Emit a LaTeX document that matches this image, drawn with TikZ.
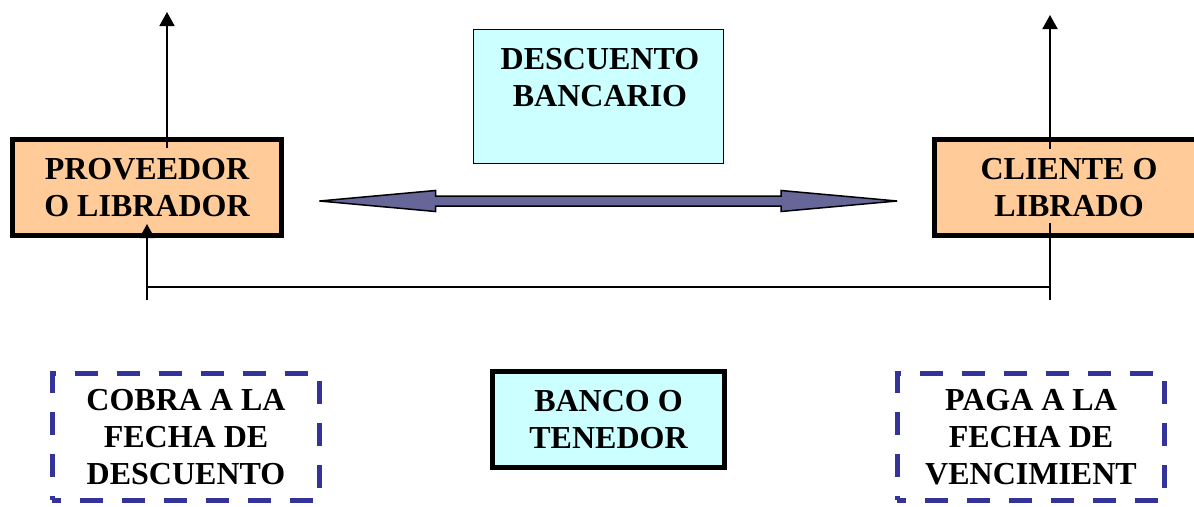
\documentclass[tikz,border=0pt]{standalone}
\usepackage{fontspec}
\setmainfont{Liberation Serif}
\usetikzlibrary{arrows.meta}
\definecolor{orangefill}{HTML}{FFCC99}
\definecolor{cyanfill}{HTML}{CCFFFF}
\definecolor{arrowfill}{HTML}{666699}
\definecolor{dashblue}{HTML}{333399}
\tikzset{
  txt/.style={font=\bfseries\fontsize{32}{37}\selectfont, align=center, text=black},
  thickbox/.style={txt, rectangle, draw=black, line width=5pt, inner sep=0pt},
  orangebox/.style={thickbox, fill=orangefill, minimum width=269pt, minimum height=96pt},
  bankbox/.style={thickbox, fill=cyanfill, minimum width=232pt, minimum height=96pt},
  thinbox/.style={rectangle, draw=black, line width=1.3pt, fill=cyanfill, inner sep=0pt},
  dashholder/.style={txt, rectangle, inner sep=0pt, minimum width=267pt, minimum height=126pt},
  dashline/.style={draw=dashblue, line width=5pt, dash pattern=on 23pt off 19pt, dash phase=19pt, line join=miter},
  conn/.style={draw=black, line width=1.8pt},
  conntip/.style={conn, -{Triangle[width=15pt,length=14pt]}},
  fatarrow/.style={fill=arrowfill, draw=black, line width=1.5pt, line join=miter}
}
\begin{document}
\begin{tikzpicture}[x=1pt, y=-1pt]
\clip (0,0) rectangle (1194,506);
\fill[white] (0,0) rectangle (1194,506);

% boxes
\node[orangebox] (prov) at (147,187.5) {PROVEEDOR\\O LIBRADOR};
\node[orangebox] (cli) at (1069,187.5) {CLIENTE O\\LIBRADO};
\node[thinbox, minimum width=250pt, minimum height=134pt] (desc) at (598.5,96.5) {};
\node[txt, inner sep=0pt] (desctext) at (600,78) {DESCUENTO\\BANCARIO};
\node[bankbox] (banco) at (608.5,419.5) {BANCO O\\TENEDOR};
\node[dashholder] (cobra) at (186,437) {COBRA A LA\\FECHA DE\\DESCUENTO};
\node[dashholder] (paga) at (1031,437) {PAGA A LA\\FECHA DE\\VENCIMIENT};

% dashed borders
\draw[dashline] (cobra.south west) -- (cobra.north west) -- (cobra.north east) -- (cobra.south east) -- cycle;
\draw[dashline] (paga.south west) -- (paga.north west) -- (paga.north east) -- (paga.south east) -- cycle;

% connector points
\coordinate (pup0) at (167,148);
\coordinate (pup1) at (167,12);
\coordinate (cup0) at (1050,149);
\coordinate (cup1) at (1050,15);
\coordinate (pb0) at (147,300);
\coordinate (pb1) at (147,224);
\coordinate (hl) at (147,287);
\coordinate (hr) at (1050,287);
\coordinate (cb0) at (1050,223);
\coordinate (cb1) at (1050,300);

% connectors
\draw[conntip] (pup0) -- (pup1);
\draw[conntip] (cup0) -- (cup1);
\draw[conntip] (pb0) -- (pb1);
\draw[conn] (hl) -- (hr);
\draw[conn] (cb0) -- (cb1);

% double fat arrow
\coordinate (dl) at (319.5,201);
\coordinate (dr) at (897,201);
\draw[fatarrow] (dl) -- (435.5,190.5) -- (435.5,196) -- (781,196) -- (781,190.5) -- (dr)
  -- (781,211.5) -- (781,206) -- (435.5,206) -- (435.5,211.5) -- cycle;
\end{tikzpicture}
\end{document}
